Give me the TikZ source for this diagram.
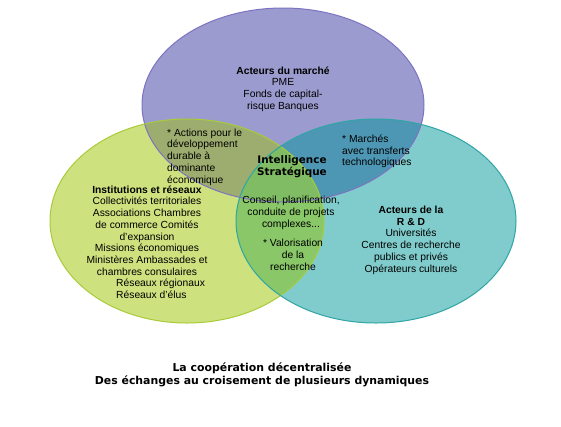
\documentclass[tikz,border=0pt]{standalone}
\usepackage{fontspec}
\setmainfont{Liberation Sans}
\newfontfamily\vfont{DejaVu Sans}
\usepackage{xcolor}
\usepackage{tikz}
\definecolor{pmark}{HTML}{9B9BCF}
\definecolor{ginst}{HTML}{CDE17E}
\definecolor{trd}{HTML}{80CBCB}
\definecolor{pgmix}{HTML}{9DAD6F}
\definecolor{ptmix}{HTML}{4E97B4}
\definecolor{gtmix}{HTML}{89C768}
\definecolor{allmix}{HTML}{80BC63}
\definecolor{pline}{HTML}{7E73C2}
\definecolor{gline}{HTML}{A9CB3A}
\definecolor{tline}{HTML}{2FA5A5}

\begin{document}
\begin{tikzpicture}[x=1pt, y=-1pt,
  txt/.style={inner sep=0pt, align=center, font=\fontsize{10.3}{11.75}\selectfont},
  ltxt/.style={txt, align=left, anchor=west},
  ring/.style={line width=1pt}
]
  \useasboundingbox (0,0) rectangle (561,426);
  % the three circles
  \fill[pmark] (283,105) ellipse [x radius=141, y radius=97];
  \fill[ginst] (187,221) ellipse [x radius=137, y radius=102];
  \fill[trd]   (376,221) ellipse [x radius=140, y radius=102];
  \begin{scope}
    \clip (283,105) ellipse [x radius=141, y radius=97];
    \fill[pgmix] (187,221) ellipse [x radius=137, y radius=102];
    \fill[ptmix] (376,221) ellipse [x radius=140, y radius=102];
  \end{scope}
  \begin{scope}
    \clip (187,221) ellipse [x radius=137, y radius=102];
    \fill[gtmix] (376,221) ellipse [x radius=140, y radius=102];
    \clip (283,105) ellipse [x radius=141, y radius=97];
    \fill[allmix] (376,221) ellipse [x radius=140, y radius=102];
  \end{scope}
  \draw[ring, pline] (283,105) ellipse [x radius=141, y radius=97];
  \draw[ring, gline] (187,221) ellipse [x radius=137, y radius=102];
  \draw[ring, tline] (376,221) ellipse [x radius=140, y radius=102];

  % texts
  \node[txt] (marche) at (283,89) {\textbf{Acteurs du marché}\\PME\\Fonds de capital-\\risque Banques};
  \node[ltxt] (durable) at (167,157) {* Actions pour le\\développement\\durable à\\dominante\\économique};
  \node[txt] (instit) at (147,230.5) {\textbf{Institutions et réseaux}\\Collectivités territoriales\\Associations Chambres\\de commerce Comités\\d'expansion\\Missions économiques\\Ministères Ambassades et\\chambres consulaires};
  \node[ltxt] (reseaux) at (115,288.5) {\hspace{1pt}Réseaux régionaux\\\hspace{1pt}Réseaux d'élus};
  \node[txt, font=\vfont\fontsize{10.4}{11.5}\selectfont\bfseries] (intel) at (292,166.5) {Intelligence\\Stratégique};
  \node[txt] (conseil) at (291,213) {Conseil, planification,\\conduite de projets\\complexes...};
  \node[txt] (valor) at (293,255) {* Valorisation\\de la\\recherche};
  \node[ltxt] (transf) at (342,151.5) {* Marchés\\avec transferts\\technologiques};
  \node[txt] (rd) at (411,240) {\textbf{Acteurs de la}\\\textbf{R \& D}\\Universités\\Centres de recherche\\publics et privés\\Opérateurs culturels};

  \node[txt, font=\vfont\fontsize{10.9}{13}\selectfont\bfseries] (titre) at (262,374.5) {La coopération décentralisée\\Des échanges au croisement de plusieurs dynamiques};
\end{tikzpicture}
\end{document}
